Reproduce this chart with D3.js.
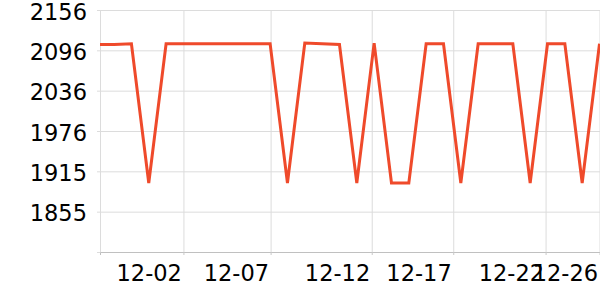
<!DOCTYPE html>
<html>
<head>
<meta charset="utf-8">
<script src="https://cdn.jsdelivr.net/npm/d3@7"></script>
<style>
  body { margin: 0; background: #fff; }
  .tick text { font-family: "DejaVu Sans", sans-serif; font-size: 22.5px; fill: #000; }
</style>
</head>
<body>
<div id="chart"></div>
<script>
// daily readings, 11-27 .. 12-26
var dates = [
    "2023-11-27","2023-11-28","2023-11-29","2023-11-30","2023-12-01","2023-12-02",
    "2023-12-03","2023-12-04","2023-12-05","2023-12-06","2023-12-07","2023-12-08",
    "2023-12-09","2023-12-10","2023-12-11","2023-12-12","2023-12-13","2023-12-14",
    "2023-12-15","2023-12-16","2023-12-17","2023-12-18","2023-12-19","2023-12-20",
    "2023-12-21","2023-12-22","2023-12-23","2023-12-24","2023-12-25","2023-12-26"
];
var values = [
    2105, 2105, 2106, 1898, 2106, 2106,
    2106, 2106, 2106, 2106, 2106, 1898,
    2107, 2106, 2105, 1898, 2107, 1898,
    1898, 2106, 2106, 1898, 2106, 2106,
    2106, 1898, 2106, 2106, 1898, 2106
];

// axis ticks
var xTickTimes = [
    "2023-12-02T00:00", "2023-12-07T00:40", "2023-12-12T20:40",
    "2023-12-17T13:30", "2023-12-22T21:20", "2023-12-26T00:00"
];
var xDomain = ["2023-11-27T04:30", "2023-12-26T00:40"];
var yTicks = [1855.2, 1915.45, 1975.7, 2035.95, 2096.2, 2156.45];
var yDomain = [1794.95, 2156.45];

var parseDay = d3.timeParse("%Y-%m-%d");
var parseTime = d3.timeParse("%Y-%m-%dT%H:%M");

var data = dates.map(function(d, i) {
    return { date: parseDay(d), value: values[i] };
});

var margin = { top: 10, right: 0, bottom: 48, left: 100 };
var width = 600 - margin.left - margin.right,
    height = 300 - margin.top - margin.bottom;

var svg = d3.select("#chart").append("svg")
    .attr("width", 600)
    .attr("height", 300)
    .append("g")
    .attr("transform", "translate(" + margin.left + "," + margin.top + ")");

var x = d3.scaleTime()
    .domain(xDomain.map(parseTime))
    .range([0, width]);

var y = d3.scaleLinear()
    .domain(yDomain)
    .range([height, 0]);

// horizontal grid
svg.append("g")
    .attr("class", "grid")
    .call(d3.axisLeft(y).tickValues(yTicks).tickSize(-width).tickFormat(""))
    .call(function(g) {
        g.select(".domain").remove();
        g.selectAll("line").attr("stroke", "#dcdcdc");
    });

// vertical grid
svg.append("g")
    .attr("class", "grid")
    .call(d3.axisBottom(x).tickValues(xTickTimes.map(parseTime)).tickSize(height).tickFormat(""))
    .call(function(g) {
        g.select(".domain").remove();
        g.selectAll("line").attr("stroke", "#dcdcdc");
    });

// y axis
svg.append("g")
    .call(d3.axisLeft(y)
        .tickValues(yTicks)
        .tickSize(3)
        .tickPadding(10)
        .tickFormat(function(d) { return Math.round(d); }))
    .call(function(g) {
        g.select(".domain").attr("stroke", "#dcdcdc");
        g.selectAll("line").attr("stroke", "#dcdcdc");
        g.selectAll("text").attr("dy", "0.4em");
    });

// x axis, labels sit to the left of their tick
svg.append("g")
    .attr("transform", "translate(0," + height + ")")
    .call(d3.axisBottom(x)
        .tickValues(xTickTimes.map(parseTime))
        .tickSize(3)
        .tickSizeOuter(3)
        .tickPadding(10)
        .tickFormat(d3.timeFormat("%m-%d")))
    .call(function(g) {
        g.select(".domain").attr("stroke", "#c0c0c0");
        g.selectAll("line").attr("stroke", "#c8c8c8");
        g.selectAll("text").attr("text-anchor", "end").attr("x", -2);
    });

svg.append("clipPath")
    .attr("id", "clip")
    .append("rect")
    .attr("width", width)
    .attr("height", height);

var line = d3.line()
    .x(function(d) { return x(d.date); })
    .y(function(d) { return y(d.value); });

svg.append("path")
    .datum(data)
    .attr("clip-path", "url(#clip)")
    .attr("fill", "none")
    .attr("stroke", "#ef4a2b")
    .attr("stroke-width", 3)
    .attr("d", line);
</script>
</body>
</html>
